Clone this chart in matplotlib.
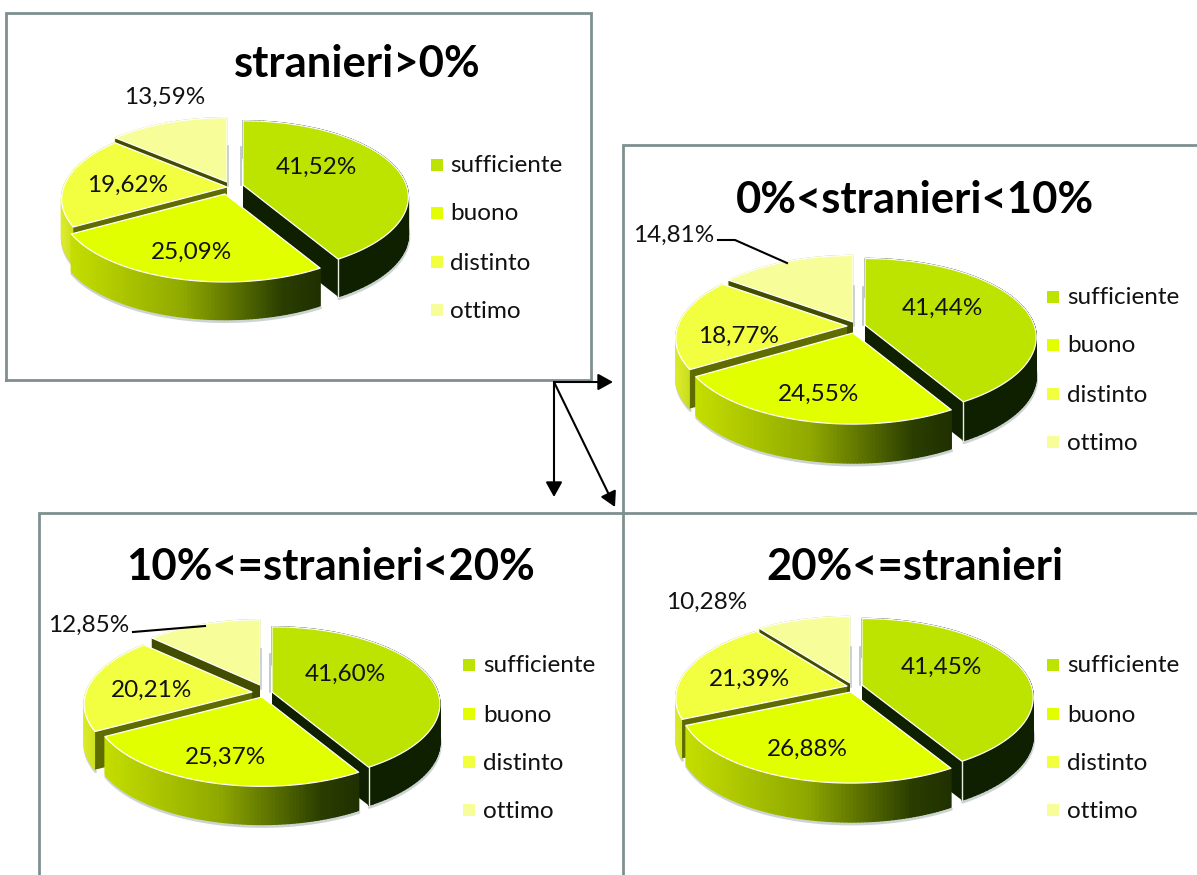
import numpy as np
import matplotlib
matplotlib.use("Agg")
import matplotlib.pyplot as plt
from matplotlib.collections import PolyCollection
from matplotlib.colors import to_rgb
from matplotlib.patches import Polygon, Rectangle

plt.rcParams['font.family'] = ['Lato', 'DejaVu Sans']

categories = ['sufficiente', 'buono', 'distinto', 'ottimo']
titles = ['stranieri>0%', '0%<stranieri<10%', '10%<=stranieri<20%', '20%<=stranieri']
values_all = [41.52, 25.09, 19.62, 13.59]
values_low = [41.44, 24.55, 18.77, 14.81]
values_mid = [41.60, 25.37, 20.21, 12.85]
values_high = [41.45, 26.88, 21.39, 10.28]

TOP_COLORS = ['#bde300', '#e2ff00', '#f2ff40', '#f6fd99']
WALL_COLORS = ['#0f2000', '#6a7a00', '#5f6c00', '#434d00']
FRAME = '#7f8f8f'
TEXT = '#111111'

# Pie geometry in figure pixels: scale, apex of each slice, label anchors, legend origin
panels = [
    dict(values=values_all, title=titles[0], title_xy=(357, 64), scale=0.99,
         apex=[(243, 185), (225, 194), (227, 187), (227, 182)],
         labels=[(316, 167), (192, 252), (128, 185), (165, 97)],
         legend=(437, 450, [165, 213, 262, 310])),
    dict(values=values_low, title=titles[1], title_xy=(915, 200), scale=1.025,
         apex=[(865, 325), (853, 333), (847, 326), (853, 322)],
         labels=[(942, 308), (819, 394), (739, 336), (674, 235)],
         legend=(1053, 1067, [297, 345, 394, 442]),
         leader=[(718, 240), (735, 240), (787, 263)]),
    dict(values=values_mid, title=titles[2], title_xy=(331, 567), scale=1.005,
         apex=[(272, 692), (262, 697), (252, 692), (260, 685)],
         labels=[(345, 674), (226, 757), (152, 690), (89, 625)],
         legend=(469, 483, [665, 714, 762, 810]),
         leader=[(133, 632), (205, 626)]),
    dict(values=values_high, title=titles[3], title_xy=(915, 567), scale=1.025,
         apex=[(862, 685), (851, 692), (847, 686), (850, 683)],
         labels=[(941, 667), (807, 749), (750, 679), (707, 602)],
         legend=(1053, 1067, [665, 714, 762, 810])),
]

RX, RY, PERSP, DEPTH = 165.0, 75.0, 0.156, 38.0


def project(theta, apex, scale):
    """Map clockwise-from-top angles on the tilted disc to pixel positions."""
    u, v = np.sin(theta), np.cos(theta)
    d = 1 + PERSP * v
    return apex[0] + scale * RX * u / d, apex[1] - scale * RY * v / d


def side_color(i, frac):
    if i == 1:
        stops = [(0.0, '#c4de00'), (0.45, '#8fa800'), (0.85, '#2a3d00'), (1.0, '#203000')]
    elif i == 2:
        stops = [(0.0, '#dcec2a'), (1.0, '#c4d81a')]
    elif i == 3:
        stops = [(0.0, '#e6ec80'), (1.0, '#c8d060')]
    else:
        stops = [(0.0, '#0f2000'), (1.0, '#0f2000')]
    xs = [s[0] for s in stops]
    cols = np.array([to_rgb(s[1]) for s in stops])
    return tuple(np.interp(frac, xs, cols[:, k]) for k in range(3))


def draw_slice(ax, i, start, end, apex, scale, depth):
    theta = np.linspace(start, end, 90)
    x, y = project(theta, apex, scale)

    # soft contact shadow beneath the rim
    ax.plot(x + 0.5, y + depth + 2, color='#9aa8a8', lw=2.0, alpha=0.5,
            solid_capstyle='round', zorder=2 + i * 0.01)

    # curved rim built from narrow shaded quads
    front = np.cos(theta) < 0.3
    span = (x[front].min(), x[front].max()) if front.any() else (x.min(), x.max())
    quads, cols = [], []
    for k in range(len(theta) - 1):
        quads.append([(x[k], y[k]), (x[k + 1], y[k + 1]),
                      (x[k + 1], y[k + 1] + depth), (x[k], y[k] + depth)])
        frac = np.clip((0.5 * (x[k] + x[k + 1]) - span[0]) / max(span[1] - span[0], 1), 0, 1)
        cols.append(side_color(i, frac))
    ax.add_collection(PolyCollection(quads, facecolors=cols, edgecolors=cols,
                                     linewidths=1.0, zorder=3))

    # the radial wall facing the viewer; the nearest slice shows none
    if i != 1:
        xe, ye = (x[-1], y[-1]) if i == 0 else (x[0], y[0])
        ax.add_patch(Polygon([apex, (xe, ye), (xe, ye + depth), (apex[0], apex[1] + depth)],
                             closed=True, facecolor=WALL_COLORS[i], edgecolor='none', zorder=3))

    # bright seam on the front corner of the largest slice
    if i == 0:
        ax.plot([x[-1], x[-1]], [y[-1], y[-1] + depth], color='#e8eee0', lw=1.0, zorder=3)

    # top face
    ax.add_patch(Polygon(np.column_stack([np.r_[apex[0], x], np.r_[apex[1], y]]), closed=True,
                         facecolor=TOP_COLORS[i], edgecolor='white', lw=0.9,
                         joinstyle='round', zorder=3))


fig = plt.figure(figsize=(11.97, 8.75), dpi=100, facecolor='white')
ax = fig.add_axes([0, 0, 1, 1])
ax.set_xlim(0, 1197)
ax.set_ylim(875, 0)
ax.axis('off')

# panel frames
for xs, ys in [
    ([6, 6, 591, 591, 6], [380, 13, 13, 380, 380]),
    ([1197, 623, 623], [145, 145, 875]),
    ([1197, 39, 39], [513, 513, 875]),
]:
    ax.plot(xs, ys, color=FRAME, lw=2.0, solid_joinstyle='miter', zorder=1)

# arrows leading from the overall chart to the three groups
for tip in [(613, 382), (554, 497), (615, 507)]:
    ax.annotate('', xy=tip, xytext=(554, 382), zorder=5,
                arrowprops=dict(arrowstyle='-|>,head_length=0.9,head_width=0.5',
                                color='black', lw=1.5, shrinkA=0, shrinkB=0))

for p in panels:
    vals = np.array(p['values'])
    edges = np.r_[0, np.cumsum(vals)] / vals.sum() * 2 * np.pi
    depth = DEPTH * p['scale']
    # back slices first so nearer ones overlap them
    for i in [3, 2, 0, 1]:
        draw_slice(ax, i, edges[i], edges[i + 1], p['apex'][i], p['scale'], depth)

    # thin upright strips where the slices part at twelve o'clock
    ax_s, ay_s = p['apex'][0]
    ax.plot([ax_s - 2, ax_s - 2], [ay_s - 38, ay_s], color='#b8c2c2', lw=1.2, zorder=4)
    ox, oy = p['apex'][3]
    ax.plot([ox + 1, ox + 1], [oy - 36, oy + 4], color='#c4cccc', lw=1.2, zorder=4)

    ax.text(*p['title_xy'], p['title'], fontsize=31.4, fontweight='bold', color='black',
            ha='center', va='center', zorder=6)

    for v, xy in zip(vals, p['labels']):
        ax.text(*xy, f'{v:.2f}%'.replace('.', ','), fontsize=17.5, color=TEXT,
                ha='center', va='center', zorder=6)

    if 'leader' in p:
        lx, ly = zip(*p['leader'])
        ax.plot(lx, ly, color='black', lw=1.5, zorder=6)

    mx, tx, ys = p['legend']
    for i, (name, ly) in enumerate(zip(categories, ys)):
        ax.add_patch(Rectangle((mx - 6, ly - 6), 12, 12, facecolor=TOP_COLORS[i],
                               edgecolor='none', zorder=6))
        ax.text(tx, ly + 1, name, fontsize=17.5, color=TEXT, ha='left', va='center', zorder=6)

fig.savefig('out.png', dpi=100, facecolor='white')
